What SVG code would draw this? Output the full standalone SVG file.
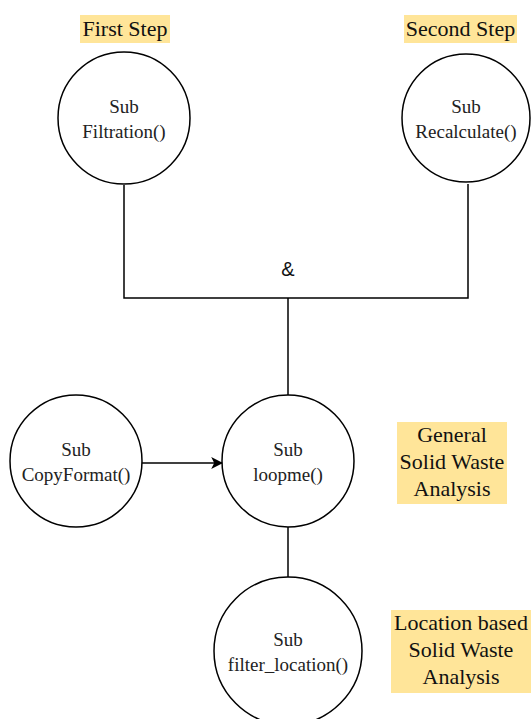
<svg xmlns="http://www.w3.org/2000/svg" width="531" height="719" viewBox="0 0 531 719">
  <style>
    .node { fill: #ffffff; stroke: #000000; stroke-width: 1.5; }
    .sub { font-family: 'Liberation Serif', 'DejaVu Serif', serif; font-size: 19px; fill: #222222; text-anchor: middle; }
    .tag { fill: #ffe599; }
    .tagtext { font-family: 'Liberation Serif', 'DejaVu Serif', serif; font-size: 22px; fill: #111111; text-anchor: middle; }
    .wire { fill: none; stroke: #000000; stroke-width: 1.5; }
  </style>
  <defs>
    <marker id="arrow" viewBox="0 0 10 10" refX="9" refY="5" markerWidth="12" markerHeight="12" markerUnits="userSpaceOnUse" orient="auto">
      <path d="M0,0 L10,5 L0,10 L2.5,5 Z" fill="#000000"/>
    </marker>
  </defs>

  <rect width="531" height="719" fill="#ffffff"/>

  <!-- connectors -->
  <g id="connectors">
    <polyline class="wire" points="124,185 124,298 468,298 468,184"/>
    <line class="wire" x1="288" y1="298" x2="288" y2="395"/>
    <line class="wire" x1="142" y1="463" x2="222" y2="463" marker-end="url(#arrow)"/>
    <line class="wire" x1="288" y1="527" x2="288" y2="577"/>
    <text x="288" y="276" font-family="'Liberation Sans', sans-serif" font-size="20" text-anchor="middle" fill="#111111">&amp;</text>
  </g>

  <!-- labels -->
  <g id="label-first">
    <rect class="tag" x="80" y="15" width="90" height="28"/>
    <text class="tagtext" x="125" y="36">First Step</text>
  </g>
  <g id="label-second">
    <rect class="tag" x="404" y="15" width="113" height="28"/>
    <text class="tagtext" x="460.5" y="36">Second Step</text>
  </g>
  <g id="label-general">
    <rect class="tag" x="397" y="422" width="110" height="82"/>
    <text class="tagtext" x="452" y="442">General</text>
    <text class="tagtext" x="452" y="469">Solid Waste</text>
    <text class="tagtext" x="452" y="496">Analysis</text>
  </g>
  <g id="label-location">
    <rect class="tag" x="391" y="610" width="140" height="83"/>
    <text class="tagtext" x="461" y="630">Location based</text>
    <text class="tagtext" x="461" y="657">Solid Waste</text>
    <text class="tagtext" x="461" y="684">Analysis</text>
  </g>

  <!-- nodes -->
  <g id="filtration">
    <circle class="node" cx="124" cy="118" r="66"/>
    <text class="sub" x="124" y="113">Sub</text>
    <text class="sub" x="124" y="138">Filtration()</text>
  </g>
  <g id="recalculate">
    <circle class="node" cx="466" cy="118" r="64"/>
    <text class="sub" x="466" y="113">Sub</text>
    <text class="sub" x="466" y="138">Recalculate()</text>
  </g>
  <g id="copyformat">
    <circle class="node" cx="76" cy="461" r="66"/>
    <text class="sub" x="76" y="456">Sub</text>
    <text class="sub" x="76" y="481">CopyFormat()</text>
  </g>
  <g id="loopme">
    <circle class="node" cx="288" cy="461" r="66"/>
    <text class="sub" x="288" y="456">Sub</text>
    <text class="sub" x="288" y="481">loopme()</text>
  </g>
  <g id="filter-location">
    <circle class="node" cx="288" cy="651" r="74"/>
    <text class="sub" x="288" y="646">Sub</text>
    <text class="sub" x="288" y="671">filter_location()</text>
  </g>
</svg>
